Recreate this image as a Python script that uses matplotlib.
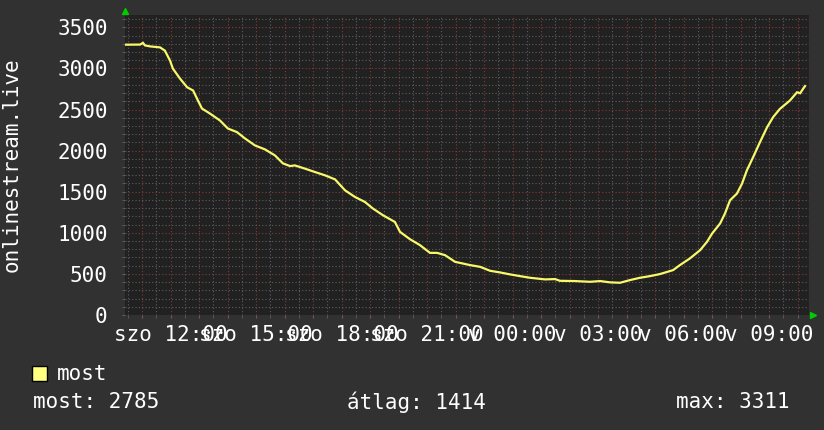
import matplotlib
matplotlib.use("Agg")
import matplotlib.pyplot as plt
from matplotlib.ticker import MultipleLocator

# hours since Saturday 00:00
hours = [10.40, 10.93, 11.03, 11.10, 11.28, 11.63, 11.80, 11.98, 12.08, 12.33, 12.58, 12.79,
         12.96, 13.10, 13.38, 13.73, 14.01, 14.33, 14.61, 14.96, 15.31, 15.66, 15.94,
         16.19, 16.36, 16.72, 17.07, 17.42, 17.77, 18.12, 18.47, 18.82, 19.10, 19.45,
         19.87, 20.05, 20.40, 20.75, 21.10, 21.35, 21.63, 21.98, 22.51, 22.86, 23.21,
         23.56, 23.91, 24.26, 24.61, 25.14, 25.49, 25.66, 26.19, 26.72, 27.07, 27.42,
         27.77, 28.12, 28.47, 28.82, 29.17, 29.63, 29.87, 30.22, 30.58, 30.82, 31.00,
         31.28, 31.45, 31.63, 31.87, 32.05, 32.22, 32.44, 32.68, 32.93, 33.14, 33.38,
         33.73, 33.98, 34.09, 34.19, 34.26]
most = [3289, 3290, 3311, 3280, 3268, 3256, 3216, 3095, 2998, 2876, 2771, 2731,
        2609, 2512, 2451, 2367, 2269, 2225, 2148, 2063, 2015, 1942, 1845,
        1812, 1820, 1780, 1739, 1699, 1650, 1517, 1436, 1375, 1295, 1214,
        1132, 1011, 922, 850, 756, 756, 728, 647, 607, 586, 538,
        518, 494, 473, 453, 433, 437, 416, 413, 404, 413, 397,
        392, 425, 453, 473, 498, 546, 607, 688, 789, 890, 991,
        1113, 1234, 1396, 1477, 1598, 1760, 1921, 2103, 2285, 2407, 2508,
        2609, 2710, 2698, 2751, 2785]

tick_hours = [12, 15, 18, 21, 24, 27, 30, 33]
tick_labels = ["szo 12:00", "szo 15:00", "szo 18:00", "szo 21:00",
               "v 00:00", "v 03:00", "v 06:00", "v 09:00"]
y_ticks = [0, 500, 1000, 1500, 2000, 2500, 3000, 3500]

series_name = "most"
stat_labels = ["most: 2785", "átlag: 1414", "max: 3311"]
y_title = "onlinestream.live"

CANVAS = "#313131"
BACK = "#212121"
MONO = "DejaVu Sans Mono"
FS = 15

W, H = 824, 430
fig = plt.figure(figsize=(W / 100, H / 100), dpi=100, facecolor=CANVAS)
ax = fig.add_axes([125 / W, 1 - 315 / H, 684 / W, 300 / H])
ax.set_facecolor(BACK)

ax.set_xlim(10.40, 34.40)
ax.set_ylim(0, 3650)

# grid
ax.xaxis.set_major_locator(MultipleLocator(1))
ax.xaxis.set_minor_locator(MultipleLocator(0.5))
ax.yaxis.set_major_locator(MultipleLocator(500))
ax.yaxis.set_minor_locator(MultipleLocator(100))
ax.grid(which="minor", color="#5e5e5e", linestyle=(0, (1, 2)), linewidth=0.8)
ax.grid(which="major", color="#843a3a", linestyle=(0, (1, 2)), linewidth=0.8)
ax.set_axisbelow(True)

ax.tick_params(axis="both", which="both", length=2, color="#606060",
               labelcolor="white", labelsize=FS)
ax.tick_params(axis="x", which="major", pad=5)
ax.tick_params(axis="y", which="major", pad=10.5)

ax.set_yticks(y_ticks)
ax.set_yticklabels([str(v) for v in y_ticks], family=MONO, fontsize=FS, color="white")
# x labels only every 3 hours
all_hours = list(range(11, 35))
ax.set_xticks(all_hours)
ax.set_xticklabels([tick_labels[tick_hours.index(h)] if h in tick_hours else "" for h in all_hours],
                   family=MONO, fontsize=FS, color="white")

for s in ax.spines.values():
    s.set_visible(False)

ax.plot(hours, most, color="#f8f86a", linewidth=1.6, solid_joinstyle="miter")

# axis arrows
ax.plot([0], [1 + 4 / 300], marker="^", color="#00cc00", markersize=4,
        transform=ax.transAxes, clip_on=False)
ax.plot([1 + 4 / 684], [0], marker=">", color="#00cc00", markersize=4,
        transform=ax.transAxes, clip_on=False)

fig.text(12 / W, 1 - 165 / H, y_title, rotation=90, ha="center", va="center",
         family=MONO, fontsize=FS, color="white")

# legend
fig.patches.append(plt.Rectangle((32 / W, 1 - 381 / H), 15 / W, 15 / H,
                                 transform=fig.transFigure, facecolor="#ffff80",
                                 edgecolor="black", linewidth=1))
fig.text(57 / W, 1 - 374 / H, series_name, ha="left", va="center",
         family=MONO, fontsize=FS, color="white")
fig.text(33 / W, 1 - 402 / H, stat_labels[0], ha="left", va="center",
         family=MONO, fontsize=FS, color="white")
fig.text(347 / W, 1 - 402 / H, stat_labels[1], ha="left", va="center",
         family=MONO, fontsize=FS, color="white")
fig.text(790 / W, 1 - 402 / H, stat_labels[2], ha="right", va="center",
         family=MONO, fontsize=FS, color="white")

fig.savefig("out.png", dpi=100, facecolor=CANVAS)
